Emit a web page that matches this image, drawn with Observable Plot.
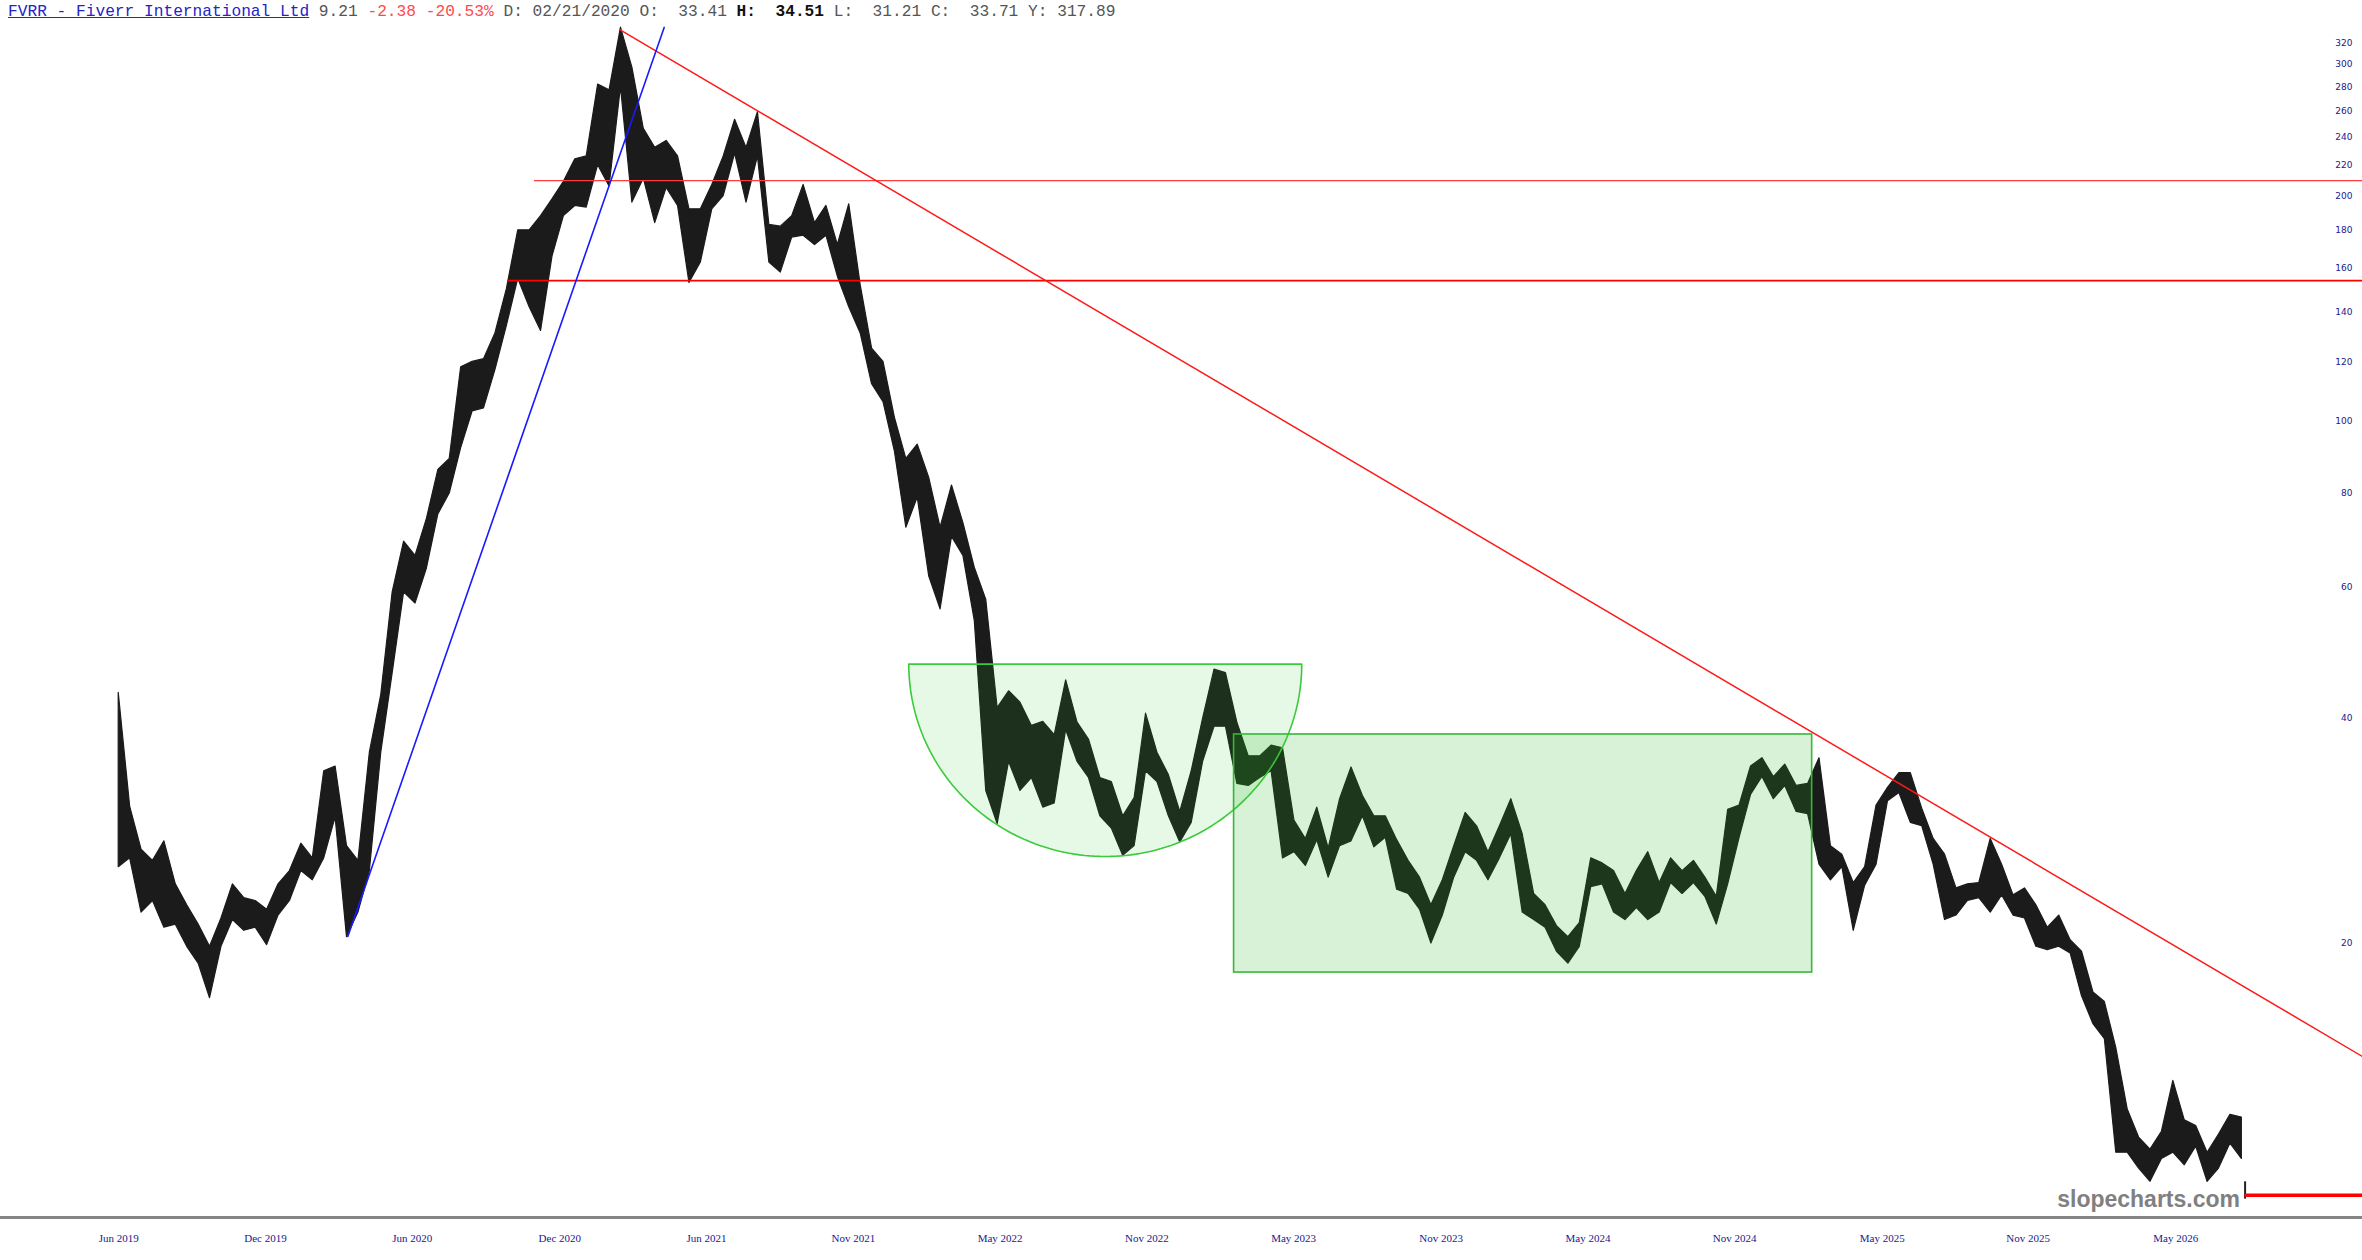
<!DOCTYPE html>
<html><head><meta charset="utf-8">
<script src="https://cdn.jsdelivr.net/npm/d3@7"></script>
<script src="https://cdn.jsdelivr.net/npm/@observablehq/plot@0.6"></script>
<style>
html,body{margin:0;padding:0;background:#fff;}
#wrap{position:relative;width:2362px;height:1260px;overflow:hidden;background:#fff;}
#hdr{position:absolute;left:8px;top:3px;font-family:"Liberation Mono","DejaVu Sans Mono",monospace;font-size:16.2px;line-height:18px;white-space:pre;color:#555;}
#hdr .t{color:#2424c8;text-decoration:underline;}
#hdr .r{color:#ff4a4a;}
#hdr b{color:#111;}
</style></head><body>
<div id="wrap"><div id="chart"></div><div id="hdr"></div></div>
<script>
// ---------- header values ----------
const ticker = "FVRR - Fiverr International Ltd";
const lastPrice = 9.21;
const change = "-2.38";
const changePct = "-20.53%";
const hoverDate = "02/21/2020";
const hoverO = "33.41", hoverH = "34.51", hoverL = "31.21", hoverC = "33.71", yearHigh = "317.89";

// ---------- price series: two-week bars (low / high) starting at the IPO ----------
const seriesStart = "2019-06-13";
const stepDays = 14;
const lo = [25.3,26,22,22.8,21,21.2,19.8,18.8,16.9,19.8,
21.5,20.8,21,19.9,21.8,22.8,25,24.3,26,29.5,
20.4,22,25,36,46,59,57,63.5,75,80,
92,103,104,117,134,155,142,132,166,188,
194,193,220,206,280,196,211,184,205,194,
153,163,192,200,228,196,226,163,158,176,
177,172,177,156,142,131,112,106,91,72,
79,62,56,70,66,54,32,28.9,35,32,
33.3,30.4,30.8,38.6,35,33.3,29.6,28.5,26.2,27,
34,32.9,29.6,27.3,29,35,39,39,32.7,32.5,
33.3,34,26,26.5,25.4,27.5,24.5,27,27.4,29.6,
26.9,27.7,23.6,23.3,22.2,20,21.8,24.5,26.5,25.8,
24.3,26,28,22,21.5,21,19.5,18.8,19.8,23.8,
24,22,21.5,22.3,21.5,22,24.1,23.3,24.1,23.1,
21.2,24,27.7,31.6,33.4,31.2,32.5,30,29.8,25.5,
24.3,25.3,20.8,23.9,25.5,31,31.8,29,28.7,25.5,
21.5,21.8,22.8,23,22,23.2,21.8,21.6,19.8,19.6,
19.8,19.4,17,15.6,14.9,10.5,10.5,10,9.6,10.3,
10.5,10.1,10.7,9.6,10,10.8,10.3];
const hi = [43.3,30.5,26.7,25.8,27.4,24,22.5,21.2,19.8,21.6,
24,23,22.8,22.2,24,25,27.2,26,34,34.5,
27,25.8,36,43,59,69,66,74,86,89,
118,120,121,131,150,180,180,188,198,209,
224,226,282,277,336,297,246,232,237,226,
192,192,207,226,253,232,259,183,182,188,
207,184,194,172,195,152,125,120,101,89,
93,84,72,82,73,63.6,57.7,41.3,43.5,42,
39.1,39.6,38,45,39.5,37.5,33.3,32.9,29.6,31.3,
40.6,36,33.6,30,34,40,46.5,46,39.5,35.6,
35.6,36.8,36.5,29.2,27.6,30.4,26.8,31.2,34.4,31.5,
29.6,29.6,27.5,25.8,24.5,22.5,24.3,27,29.9,28.7,
26.5,28.7,31.2,28,23.3,22.5,21.1,20.4,21.3,26,
25.6,25,23.3,25,26.5,24.1,26,25,25.8,24.5,
23.1,30.2,30.6,34.5,35.4,33.4,34.7,32.5,32.7,35.4,
27,26.3,24.1,25.3,30.6,32.3,33.8,33.8,30.3,27.6,
26.3,23.7,24,24.1,27.6,25.5,23.2,23.7,22.5,21,
21.8,20.2,19.5,17.2,16.7,14.5,12,11,10.6,11.2,
13.1,11.6,11.4,10.5,11.1,11.8,11.7];
// final (down) bar
const lastBarDate = "2026-08-03", lastBarLow = 9.1, lastBarHigh = 9.6;

// ---------- axes ----------
const xDomain = ["2019-01-19", "2026-12-25"];
const yDomain = [8.6, 365.3];
const yTicks = [20,40,60,80,100,120,140,160,180,200,220,240,260,280,300,320];
const xTicks = ["2019-06-13","2019-12-10","2020-06-07","2020-12-05","2021-06-03","2021-11-30",
  "2022-05-29","2022-11-25","2023-05-24","2023-11-21","2024-05-19","2024-11-15",
  "2025-05-15","2025-11-10","2026-05-10"];

// ---------- annotations ----------
const blueLine = [{date:"2020-03-20", v:20.44}, {date:"2021-04-12", v:336.2}];
const downTrend = [{date:"2021-02-17", v:333.8}, {date:"2026-12-25", v:14.12}];
const resistUpper = {from:"2020-11-04", v:209.7};
const resistLower = {from:"2020-10-02", v:154.1};
const cup = {left:"2022-02-06", right:"2023-06-03", top:47.3, bottom:26.15};
const box = {left:"2023-03-12", right:"2025-02-18", top:38.08, bottom:18.29};

// ---------- build ----------
const P = d3.utcParse("%Y-%m-%d");
const t0 = P(seriesStart);
const n = Math.min(lo.length, hi.length);
const bars = d3.range(n).map(i => ({date: d3.utcDay.offset(t0, i*stepDays), lo: lo[i], hi: hi[i]}));
const xEnd = P(xDomain[1]);

const cL = +P(cup.left), cR = +P(cup.right), cMid = (cL+cR)/2, cHalf = (cR-cL)/2;
const cupPts = d3.range(0, 121).map(i => {
  const t = Math.PI*i/120;
  return {date: new Date(cMid + cHalf*Math.cos(t)), v: cup.top*Math.pow(cup.bottom/cup.top, Math.sin(t))};
});
cupPts.push(cupPts[0]);

const navy = "#20208e";
const fmt = d3.utcFormat("%b %Y");

const chart = Plot.plot({
  width: 2362, height: 1260,
  marginTop: 0, marginBottom: 43, marginLeft: 0, marginRight: 0,
  x: {type: "utc", domain: xDomain.map(P), axis: null},
  y: {type: "log", domain: yDomain, axis: null},
  style: {background: "#fff", overflow: "visible"},
  marks: [
    Plot.ruleY([yDomain[0]], {stroke: "#858585", strokeWidth: 3}),
    Plot.areaY(bars, {x: "date", y1: "lo", y2: "hi", fill: "#1b1b1b", stroke: "#1b1b1b", strokeWidth: 1.2, curve: "linear"}),
    Plot.ruleX([{d: P(lastBarDate), a: lastBarLow, b: lastBarHigh}], {x: "d", y1: "a", y2: "b", stroke: "#222", strokeWidth: 2}),
    Plot.line(cupPts, {x: "date", y: "v", fill: "rgb(50,200,50)", fillOpacity: 0.12, stroke: "#3acb3a", strokeWidth: 1.6}),
    Plot.rect([box], {x1: d => P(d.left), x2: d => P(d.right), y1: "bottom", y2: "top",
      fill: "rgb(40,185,40)", fillOpacity: 0.18, stroke: "#36b836", strokeWidth: 1.6}),
    Plot.ruleY([resistUpper], {y: "v", x1: d => P(d.from), x2: () => xEnd, stroke: "#ff3b3b", strokeWidth: 1.3}),
    Plot.ruleY([resistLower], {y: "v", x1: d => P(d.from), x2: () => xEnd, stroke: "#ff0000", strokeWidth: 1.8}),
    Plot.line(downTrend, {x: d => P(d.date), y: "v", stroke: "#ff1a1a", strokeWidth: 1.5}),
    Plot.line(blueLine, {x: d => P(d.date), y: "v", stroke: "#1a1aff", strokeWidth: 1.6}),
    Plot.ruleY([lastPrice], {x1: () => P(lastBarDate), x2: () => xEnd, stroke: "#ff0000", strokeWidth: 3.5}),
    Plot.text(yTicks, {y: d => d, text: d => String(d), frameAnchor: "right", dx: -10, textAnchor: "end",
      fill: navy, fontSize: 9, fontFamily: "DejaVu Sans, Verdana, sans-serif"}),
    Plot.text(xTicks, {x: d => P(d), text: d => fmt(P(d)), frameAnchor: "bottom", dy: 21, lineAnchor: "middle",
      fill: navy, fontSize: 11, fontFamily: "Liberation Serif, Times New Roman, serif"})
  ]
});
document.getElementById("chart").appendChild(chart);

// watermark
d3.select(chart).append("text")
  .attr("x", 2240).attr("y", 1207).attr("text-anchor", "end")
  .attr("font-family", "Liberation Sans, Arial, sans-serif").attr("font-weight", "bold")
  .attr("font-size", 23).attr("fill", "#808080").text("slopecharts.com");

// header
const hdr = document.getElementById("hdr");
hdr.innerHTML = `<span class="t">${ticker}</span> ${lastPrice} <span class="r">${change} ${changePct}</span> D: ${hoverDate} O:  ${hoverO} <b>H:  ${hoverH}</b> L:  ${hoverL} C:  ${hoverC} Y: ${yearHigh}`;
</script>
</body></html>
